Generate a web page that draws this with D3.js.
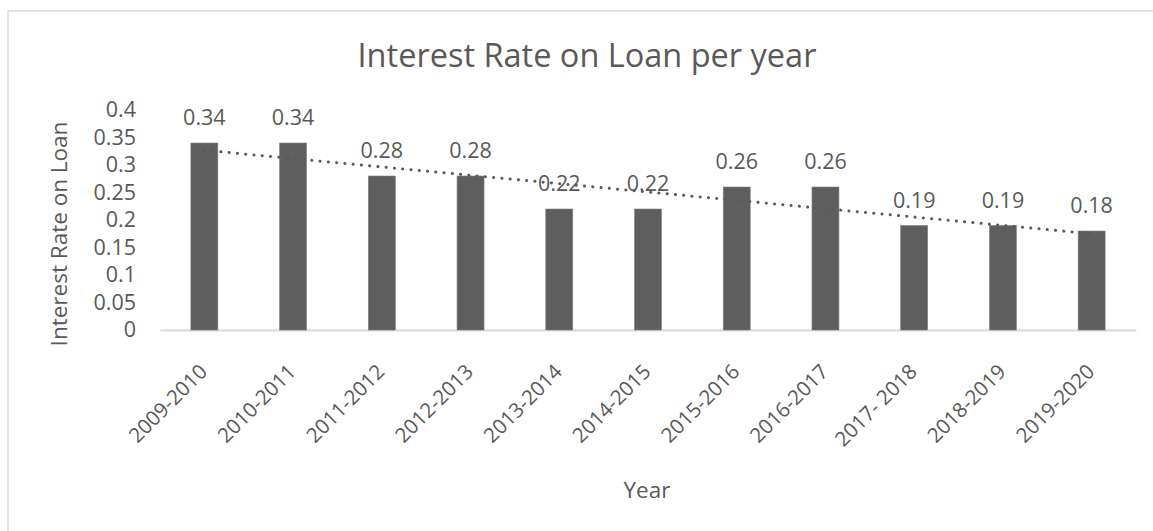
<!DOCTYPE html>
<html>
<head>
<meta charset="utf-8">
<script src="https://cdn.jsdelivr.net/npm/d3@7"></script>
<style>
   body { margin: 0; background: #fff; }
   text { font-family: "Open Sans", sans-serif; fill: #595959; }
</style>
</head>
<body>
<div id="chart"></div>
<script>
// Interest rate chart
var years = ["2009-2010", "2010-2011", "2011-2012", "2012-2013", "2013-2014", "2014-2015",
   "2015-2016", "2016-2017", "2017- 2018", "2018-2019", "2019-2020"];
var rates = [0.34, 0.34, 0.28, 0.28, 0.22, 0.22, 0.26, 0.26, 0.19, 0.19, 0.18];
var yTicks = [0, 0.05, 0.1, 0.15, 0.2, 0.25, 0.3, 0.35, 0.4];

var svgWidth = 1153;
var svgHeight = 531;

var plot = { left: 160, right: 1136, top: 110, bottom: 330 };

var svg = d3.select("#chart")
   .append("svg")
   .attr("width", svgWidth)
   .attr("height", svgHeight);

// chart border (runs off the right/bottom edge)
svg.append("rect")
   .attr("x", 8)
   .attr("y", 11)
   .attr("width", 1160)
   .attr("height", 540)
   .attr("fill", "none")
   .attr("stroke", "#d9d9d9")
   .attr("stroke-width", 1.5);

// scales
var xScale = d3.scaleBand()
   .domain(years)
   .range([plot.left, plot.right])
   .paddingInner(0.696)
   .paddingOuter(0.348);

var yScale = d3.scaleLinear()
   .domain([0, 0.4])
   .range([plot.bottom, plot.top]);

// title
svg.append("text")
   .attr("x", 587)
   .attr("y", 67)
   .attr("text-anchor", "middle")
   .style("font-size", "32.5px")
   .text("Interest Rate on Loan per year");

// y axis
var leftAxis = d3.axisLeft(yScale)
   .tickValues(yTicks)
   .tickSize(0)
   .tickPadding(24)
   .tickFormat(d3.format("~g"));

var yAxis = svg.append("g")
   .attr("transform", `translate(${plot.left}, 0)`)
   .call(leftAxis);
yAxis.select(".domain").remove();
yAxis.selectAll("text")
   .style("font-size", "21.5px")
   .attr("fill", "#595959");

// x axis
var bottomAxis = d3.axisBottom(xScale)
   .tickSize(0)
   .tickSizeOuter(0);

var xAxis = svg.append("g")
   .attr("transform", `translate(0, ${plot.bottom})`)
   .call(bottomAxis);
xAxis.select(".domain")
   .attr("stroke", "#d9d9d9")
   .attr("stroke-width", 2);
xAxis.selectAll("text")
   .style("font-size", "20.5px")
   .attr("fill", "#595959")
   .attr("text-anchor", "end")
   .attr("x", -1)
   .attr("y", 38)
   .attr("dy", "0.35em")
   .attr("transform", "rotate(-45, -1, 38)");

// bars
svg.selectAll(".bar")
   .data(rates)
   .enter()
   .append("rect")
   .attr("class", "bar")
   .attr("x", (d, i) => xScale(years[i]))
   .attr("y", d => yScale(d))
   .attr("width", xScale.bandwidth())
   .attr("height", d => yScale(0) - yScale(d))
   .attr("fill", "#5e5e5e")
   .attr("stroke", "#808080")
   .attr("stroke-width", 0.6);

// linear trendline (least squares over category index)
var n = rates.length;
var meanX = (n + 1) / 2;
var meanY = d3.mean(rates);
var sxy = d3.sum(rates, (d, i) => (i + 1 - meanX) * (d - meanY));
var sxx = d3.sum(rates, (d, i) => (i + 1 - meanX) * (i + 1 - meanX));
var slope = sxy / sxx;
var intercept = meanY - slope * meanX;

var trendLine = d3.line()
   .x(d => xScale(d) + xScale.bandwidth() / 2)
   .y((d, i) => yScale(intercept + slope * (i + 1)));

svg.append("path")
   .datum(years)
   .attr("d", trendLine)
   .attr("fill", "none")
   .attr("stroke", "#595959")
   .attr("stroke-width", 3)
   .attr("stroke-linecap", "round")
   .attr("stroke-dasharray", "0.1 8.2");

// data labels
svg.selectAll(".label")
   .data(rates)
   .enter()
   .append("text")
   .attr("class", "label")
   .attr("x", (d, i) => xScale(years[i]) + xScale.bandwidth() / 2)
   .attr("y", d => yScale(d) - 18)
   .attr("text-anchor", "middle")
   .style("font-size", "21.5px")
   .text(d => d);

// axis titles
svg.append("text")
   .attr("transform", "translate(67, 234) rotate(-90)")
   .attr("text-anchor", "middle")
   .style("font-size", "22.5px")
   .text("Interest Rate on Loan");

svg.append("text")
   .attr("x", 647)
   .attr("y", 498)
   .attr("text-anchor", "middle")
   .style("font-size", "22.5px")
   .text("Year");
</script>
</body>
</html>
